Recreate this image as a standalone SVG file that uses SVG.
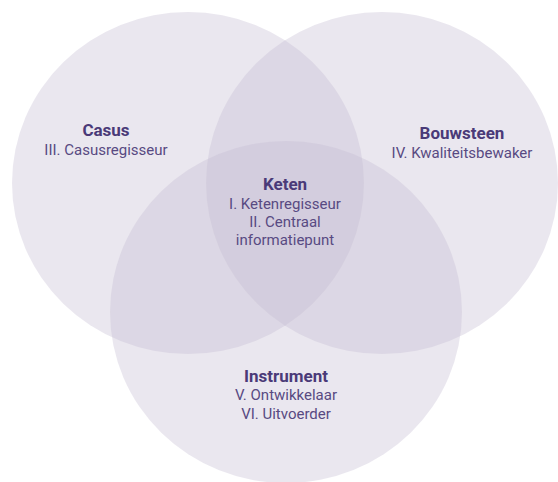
<svg xmlns="http://www.w3.org/2000/svg" width="558" height="482" viewBox="0 0 558 482">
<style>
.c{fill:#c4bcd3;fill-opacity:0.36}
.t{font-family:Roboto,"Liberation Sans",sans-serif;text-anchor:middle}
.h{font-size:17px;font-weight:bold;fill:#4a3a78}
.s{font-size:15px;fill:#584a82}
</style>
<rect width="558" height="482" fill="#ffffff"/>
<g id="circles">
<ellipse id="circle-casus" class="c" cx="188" cy="183" rx="176" ry="171"/>
<ellipse id="circle-bouwsteen" class="c" cx="382" cy="183" rx="176" ry="171"/>
<ellipse id="circle-instrument" class="c" cx="286" cy="312" rx="176" ry="171"/>
</g>
<g id="connectors"></g>
<g id="node-casus" class="t">
<text class="h" x="106" y="136">Casus</text>
<text class="s" x="106" y="155">III. Casusregisseur</text>
</g>
<g id="node-bouwsteen" class="t">
<text class="h" x="462" y="139">Bouwsteen</text>
<text class="s" x="462" y="158">IV. Kwaliteitsbewaker</text>
</g>
<g id="node-keten" class="t">
<text class="h" x="285" y="190">Keten</text>
<text class="s" x="285" y="209">I. Ketenregisseur</text>
<text class="s" x="285" y="227">II. Centraal</text>
<text class="s" x="285" y="245">informatiepunt</text>
</g>
<g id="node-instrument" class="t">
<text class="h" x="286" y="382">Instrument</text>
<text class="s" x="286" y="400">V. Ontwikkelaar</text>
<text class="s" x="286" y="419">VI. Uitvoerder</text>
</g>
</svg>
